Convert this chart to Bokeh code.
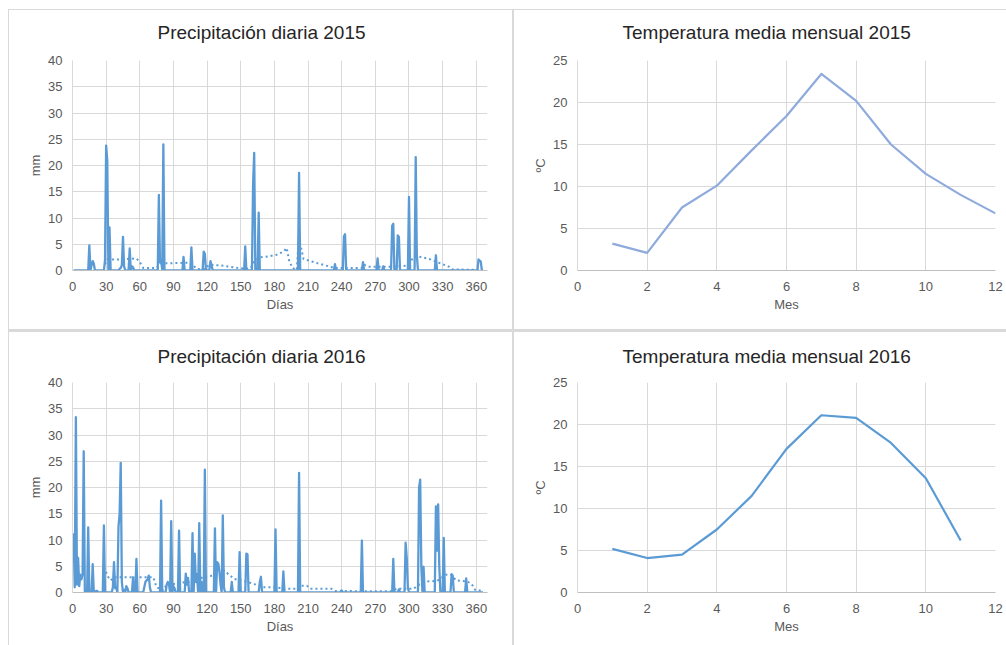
from bokeh.plotting import figure
from bokeh.layouts import row, column
from bokeh.models import ColumnDataSource, FixedTicker, Range1d
from bokeh.embed import file_html
from bokeh.resources import INLINE

# ---------------- data ----------------
# daily precipitation 2015: rainy days and amounts (mm); other days 0
rain_days_2015 = [15, 17, 18, 19, 29, 30, 31, 33, 42, 43, 44, 45, 46, 51, 53, 54,
                  77, 78, 79, 81, 99, 106, 117, 118, 123, 124, 154, 161, 162, 166,
                  202, 234, 242, 243, 259, 272, 277, 285, 286, 290, 291, 300, 306,
                  307, 324, 362, 363, 364]
rain_mm_2015 = [4.8, 1.0, 1.8, 1.3, 2.0, 23.8, 21.0, 8.2, 0.3, 0.5, 1.0, 6.4, 0.8, 4.2, 0.8, 0.6,
                14.4, 1.5, 2.0, 24.0, 2.6, 4.4, 3.6, 3.2, 1.8, 1.0, 4.6, 16.5, 22.4, 11.0,
                18.6, 1.2, 6.5, 6.9, 1.6, 2.3, 0.8, 8.5, 8.9, 6.7, 6.4, 14.0, 21.6,
                3.0, 2.9, 2.1, 1.9, 1.7]

# moving-average trend (dotted) 2015
trend_days_2015 = [29, 31, 40, 48, 57, 60, 63, 68, 75, 77, 81, 90, 105, 108, 111, 114, 118,
                   120, 124, 135, 147, 155, 159, 162, 167, 175, 182, 188, 191, 193, 196,
                   200, 202, 203, 206, 215, 225, 233, 243, 258, 260, 264, 282, 297, 306,
                   318, 336, 339, 366]
trend_mm_2015 = [1.2, 2.1, 2.1, 2.2, 2.3, 1.6, 0.5, 0.5, 0.5, 1.0, 1.4, 1.4, 1.5, 0.9, 0.3, 0.25, 0.3,
                 0.8, 1.1, 0.9, 0.5, 0.3, 0.5, 1.8, 2.5, 2.7, 3.0, 3.6, 4.3, 2.0, 0.5,
                 0.1, 7.5, 5.0, 2.2, 1.6, 1.0, 0.5, 0.5, 0.5, 1.1, 0.7, 0.7, 0.9, 2.8,
                 2.2, 0.7, 0.2, 0.1]

# daily precipitation 2016
rain_days_2016 = [1, 2, 3, 4, 5, 6, 7, 8, 9, 10, 14, 18, 21, 22, 28, 36, 37, 38, 39, 41, 42, 43,
                  44, 46, 48, 49, 54, 57, 64, 65, 66, 67, 68, 69, 79, 84, 85, 86, 88, 90, 91,
                  95, 101, 102, 103, 107, 109, 110, 111, 113, 115, 118, 127, 129, 130, 131,
                  132, 134, 135, 142, 149, 155, 156, 167, 168, 181, 188, 202, 240, 258, 286,
                  291, 297, 298, 299, 309, 310, 311, 313, 324, 325, 326, 327, 331, 338, 339, 351]
rain_mm_2016 = [11.3, 1.0, 33.4, 1.5, 6.6, 1.2, 3.4, 2.5, 3.5, 26.9, 12.4, 5.4, 0.3, 0.3, 12.8, 1.0,
                5.8, 0.8, 1.0, 12.5, 15.0, 24.7, 2.0, 0.5, 1.2, 0.8, 2.9, 6.4, 1.0, 2.0, 2.3, 2.5,
                3.2, 1.0, 17.5, 1.5, 2.0, 1.6, 13.6, 1.2, 0.8, 11.8, 3.6, 1.5, 2.8, 11.3, 7.4, 2.0,
                3.5, 13.2, 2.0, 23.4, 12.2, 5.8, 5.5, 4.0, 1.5, 14.7, 1.0, 2.0, 7.7, 7.4, 7.3, 2.0,
                3.0, 12.0, 4.0, 22.8, 0.4, 9.9, 6.4, 0.6, 9.5, 6.6, 1.0, 20.0, 21.5, 5.0, 4.9,
                16.4, 8.0, 16.8, 5.0, 10.4, 3.5, 3.2, 2.7]

trend_days_2016 = [28, 32, 34, 37, 50, 72, 75, 81, 84, 95, 100, 112, 116, 125, 131, 135, 144,
                   156, 162, 170, 180, 190, 200, 202, 209, 212, 231, 234, 257, 284, 289,
                   304, 309, 316, 325, 333, 338, 342, 352, 356, 359, 366]
trend_mm_2016 = [4.8, 2.9, 2.3, 2.9, 2.9, 2.9, 1.0, 0.4, 1.6, 1.6, 2.0, 2.0, 3.0, 3.2, 3.2, 4.2, 2.6,
                 2.0, 1.6, 1.0, 1.0, 0.7, 0.7, 1.3, 1.3, 0.7, 0.7, 0.3, 0.25, 0.25, 0.7,
                 0.7, 1.5, 2.1, 2.2, 3.4, 3.3, 2.3, 2.1, 1.6, 0.5, 0.3]

# monthly mean temperature
months_2015 = [1, 2, 3, 4, 5, 6, 7, 8, 9, 10, 11, 12]
temp_2015 = [3.2, 2.1, 7.5, 10.1, 14.3, 18.4, 23.4, 20.2, 15.0, 11.5, 9.0, 6.8]
months_2016 = [1, 2, 3, 4, 5, 6, 7, 8, 9, 10, 11]
temp_2016 = [5.2, 4.1, 4.5, 7.5, 11.5, 17.1, 21.1, 20.8, 17.8, 13.6, 6.2]

day_ticks = [0, 30, 60, 90, 120, 150, 180, 210, 240, 270, 300, 330, 360]
mm_ticks = [0, 5, 10, 15, 20, 25, 30, 35, 40]
month_ticks = [0, 2, 4, 6, 8, 10, 12]
temp_ticks = [0, 5, 10, 15, 20, 25]

# ---------------- style ----------------
FONT = "Liberation Sans"
BLUE = "#5B9BD5"
LAV = "#8FAADC"
GRID = "#D9D9D9"
TXT = "#595959"


def daily(days, mm, ndays):
    vals = dict(zip(days, mm))
    d = list(range(1, ndays + 1))
    return d, [vals.get(i, 0.0) for i in d]


def base_fig(w, h, xr, yr, top, bottom, left, right, shadow, title, title_offset,
             title_standoff, xlabel, ylabel, xticks, yticks):
    p = figure(width=w, height=h, x_range=Range1d(*xr), y_range=Range1d(*yr),
               output_backend="svg", toolbar_location=None,
               min_border_left=left, min_border_right=right,
               min_border_top=top, min_border_bottom=bottom,
               styles={"box-shadow": shadow})
    p.border_fill_color = None
    p.background_fill_color = "white"
    p.outline_line_color = None
    p.title.text = title
    p.title.text_font = FONT
    p.title.text_font_size = "19px"
    p.title.text_font_style = "normal"
    p.title.text_color = "#262626"
    p.title.align = "left"
    p.title.offset = title_offset
    p.title.vertical_align = "middle"
    p.title.standoff = title_standoff
    p.xaxis.ticker = FixedTicker(ticks=xticks)
    p.yaxis.ticker = FixedTicker(ticks=yticks)
    p.xgrid.ticker = FixedTicker(ticks=xticks)
    p.ygrid.ticker = FixedTicker(ticks=yticks)
    for g in (p.xgrid, p.ygrid):
        g.grid_line_color = GRID
        g.grid_line_width = 1
    for ax in (p.xaxis, p.yaxis):
        ax.major_tick_line_color = None
        ax.minor_tick_line_color = None
        ax.major_label_text_font = FONT
        ax.major_label_text_font_size = "13px"
        ax.major_label_text_color = TXT
        ax.axis_label_text_font = FONT
        ax.axis_label_text_font_size = "13px"
        ax.axis_label_text_font_style = "normal"
        ax.axis_label_text_color = TXT
    p.xaxis.axis_line_color = "#BFBFBF"
    p.yaxis.axis_line_color = GRID
    p.xaxis.axis_label = xlabel
    p.yaxis.axis_label = ylabel
    p.xaxis.major_label_standoff = 5
    p.xaxis.axis_label_standoff = 3
    p.yaxis.major_label_standoff = 4
    p.yaxis.axis_label_standoff = 2
    return p


SH_TL = "inset 8px 9px 0 #fff, inset 9px 10px 0 #d9d9d9, inset -1px -1px 0 #d9d9d9"
SH_TR = "inset 0 9px 0 #fff, inset 1px 10px 0 #d9d9d9, inset 0 -1px 0 #d9d9d9"
SH_BL = "inset 8px 0 0 #fff, inset 9px 2px 0 #d9d9d9, inset -1px 0 0 #d9d9d9"
SH_BR = "inset 1px 2px 0 #d9d9d9"

W_L, W_R = 513, 493
H_T, H_B = 330, 315


def precip_fig(title, days, mm, ndays, tdays, tmm, h, top, bottom, standoff, shadow):
    p = base_fig(W_L, h, (0, 370), (0, 40), top, bottom, 72, 26, shadow, title, 85, standoff,
                 "Días", "mm", day_ticks, mm_ticks)
    d, v = daily(days, mm, ndays)
    p.line(x="d", y="v", source=ColumnDataSource(dict(d=d, v=v)),
           line_color=BLUE, line_width=2.3, line_join="round")
    p.line(x="d", y="v", source=ColumnDataSource(dict(d=tdays, v=tmm)),
           line_color=BLUE, line_width=2.0, line_dash="2 3")
    return p


def temp_fig(title, months, temps, color, h, top, bottom, standoff, shadow):
    p = base_fig(W_R, h, (0, 12), (0, 25), top, bottom, 64, 11, shadow, title, 45, standoff,
                 "Mes", "ºC", month_ticks, temp_ticks)
    p.line(x="m", y="t", source=ColumnDataSource(dict(m=months, t=temps)),
           line_color=color, line_width=2.2, line_join="round")
    return p


p1 = precip_fig("Precipitación diaria 2015", rain_days_2015, rain_mm_2015, 365,
                trend_days_2015, trend_mm_2015, H_T, 60, 60, 33, SH_TL)
p2 = temp_fig("Temperatura media mensual 2015", months_2015, temp_2015, LAV,
              H_T, 60, 60, 33, SH_TR)
p3 = precip_fig("Precipitación diaria 2016", rain_days_2016, rain_mm_2016, 366,
                trend_days_2016, trend_mm_2016, H_B, 52, 53, 29, SH_BL)
p4 = temp_fig("Temperatura media mensual 2016", months_2016, temp_2016, BLUE,
              H_B, 52, 53, 29, SH_BR)

layout = column(row(p1, p2), row(p3, p4))
open("out.html", "w").write(file_html(layout, INLINE))
